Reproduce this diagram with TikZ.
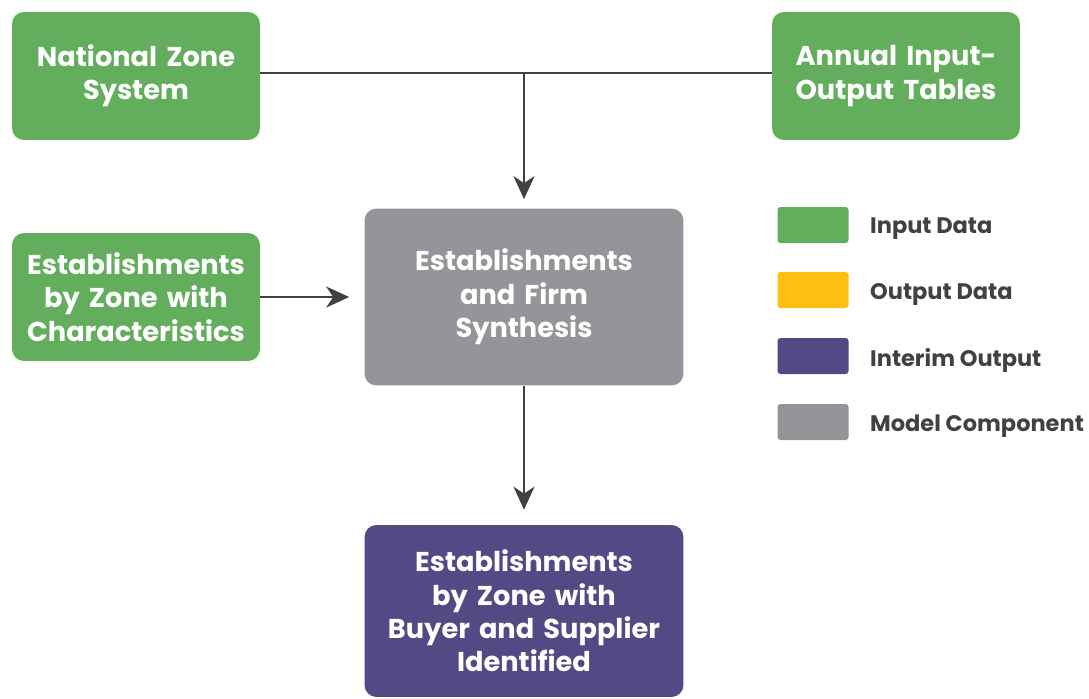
\documentclass[tikz,border=0pt]{standalone}
\usepackage{fontspec}
\setmainfont{Poppins}
\usetikzlibrary{arrows.meta, positioning}

\definecolor{inputgreen}{HTML}{62AE5C}
\definecolor{outputyellow}{HTML}{FDC010}
\definecolor{interimpurple}{HTML}{524A84}
\definecolor{modelgray}{HTML}{939598}
\definecolor{darktext}{HTML}{414042}

\tikzstyle{arrow} = [line width=1.6pt, draw=darktext, -{Stealth[length=0.46cm, width=0.42cm, inset=0.14cm]}]
\tikzstyle{line} = [line width=1.6pt, draw=darktext]
\tikzstyle{databox} = [rectangle, rounded corners=0.24cm, minimum width=4.96cm, minimum height=2.56cm, text width=4.5cm, align=center, text=white, font=\fontsize{15.5}{19}\selectfont\bfseries, fill=inputgreen]
\tikzstyle{bigbox} = [databox, minimum width=6.38cm, text width=5.9cm]
\tikzstyle{swatch} = [rectangle, rounded corners=0.06cm, minimum width=1.42cm, minimum height=0.72cm]
\tikzstyle{legendtext} = [anchor=west, text=darktext, font=\fontsize{12.8}{15}\selectfont\bfseries]

\begin{document}
\begin{tikzpicture}[x=0.02cm, y=-0.02cm]
\useasboundingbox (0,0) rectangle (1089,698);

% inputs
\node (zones) [databox] at (136,76) {National Zone\\System};
\node (iotables) [databox] at (896,76) {Annual Input-\\Output Tables};
\node (estabs) [databox] at (136,297) {Establishments\\by Zone with\\Characteristics};

% model component and its output
\node (synth) [bigbox, fill=modelgray, minimum height=3.54cm] at (524,297) {Establishments\\and Firm\\Synthesis};
\node (buyers) [bigbox, fill=interimpurple, minimum height=3.44cm] at (524,611) {Establishments\\by Zone with\\Buyer and Supplier\\Identified};

\coordinate (join) at (synth.north |- 0,73);
\draw [line] (zones.east |- join) -- (iotables.west |- join);
\draw [arrow, shorten >=0.18cm] (join) -- (synth.north);
\draw [arrow, shorten >=0.3cm] (estabs.east) -- (synth.west);
\draw [arrow, shorten >=0.3cm] (synth.south) -- (buyers.north);

% legend
\node (keyin) [swatch, fill=inputgreen] at (813,225) {};
\node (keyout) [swatch, fill=outputyellow] at (813,290) {};
\node (keyinterim) [swatch, fill=interimpurple] at (813,356) {};
\node (keymodel) [swatch, fill=modelgray] at (813,422) {};
\node (labin) [legendtext] at (864,229) {Input Data};
\node (labout) [legendtext] at (864,294) {Output Data};
\node (labinterim) [legendtext] at (864,360) {Interim Output};
\node (labmodel) [legendtext] at (864,426) {Model Component};

\end{tikzpicture}
\end{document}
